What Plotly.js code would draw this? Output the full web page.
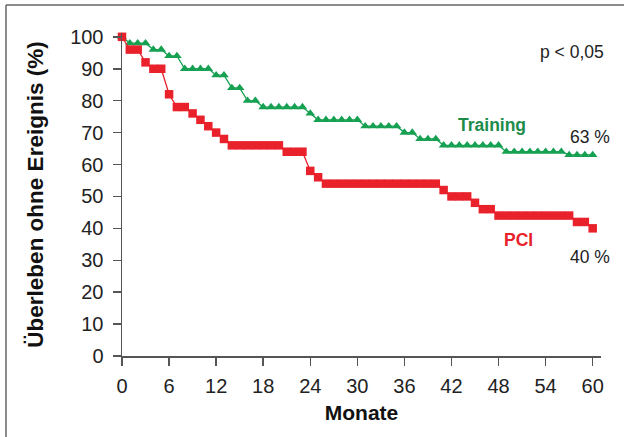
<!DOCTYPE html>
<html>
<head>
<meta charset="utf-8">
<script src="https://cdn.plot.ly/plotly-3.0.1.min.js"></script>
<style>html,body{margin:0;padding:0;background:#fff;}#chart{width:624px;height:437px;}</style>
</head>
<body>
<div id="chart"></div>
<script>
// Months 0..60
const months = Array.from({length: 61}, (_, i) => i);

// Training (green triangles)
const trainingValues = [
  100, 98, 98, 98, 96, 96, 94, 94, 90, 90,
  90, 90, 88, 88, 84, 84, 80, 80, 78, 78,
  78, 78, 78, 78, 76, 74, 74, 74, 74, 74,
  74, 72, 72, 72, 72, 72, 70, 70, 68, 68,
  68, 66, 66, 66, 66, 66, 66, 66, 66, 64,
  64, 64, 64, 64, 64, 64, 64, 63, 63, 63,
  63
];

// PCI (red squares)
const pciValues = [
  100, 96, 96, 92, 90, 90, 82, 78, 78, 76,
  74, 72, 70, 68, 66, 66, 66, 66, 66, 66,
  66, 64, 64, 64, 58, 56, 54, 54, 54, 54,
  54, 54, 54, 54, 54, 54, 54, 54, 54, 54,
  54, 52, 50, 50, 50, 48, 46, 46, 44, 44,
  44, 44, 44, 44, 44, 44, 44, 44, 42, 42,
  40
];

const xTicks = [0, 6, 12, 18, 24, 30, 36, 42, 48, 54, 60];
const yTicks = [0, 10, 20, 30, 40, 50, 60, 70, 80, 90, 100];

const RED = '#e8212b';
const GREEN = '#16a052';
const FONT = 'Liberation Sans, Arial, Helvetica, sans-serif';

const traces = [
  {
    x: months, y: trainingValues, type: 'scatter', mode: 'lines+markers',
    name: 'Training',
    line: {color: GREEN, width: 1.3},
    marker: {symbol: 'triangle-up', size: 8.5, color: GREEN},
    cliponaxis: false
  },
  {
    x: months, y: pciValues, type: 'scatter', mode: 'lines+markers',
    name: 'PCI',
    line: {color: RED, width: 1.3},
    marker: {symbol: 'square', size: 8.5, color: RED},
    cliponaxis: false
  }
];

const layout = {
  width: 624, height: 437,
  margin: {l: 122, r: 23, t: 33, b: 81, pad: 0},
  paper_bgcolor: '#ffffff',
  plot_bgcolor: '#ffffff',
  showlegend: false,
  font: {family: FONT, color: '#222'},
  xaxis: {
    range: [0, 61.06],
    tickvals: xTicks,
    ticktext: xTicks.map(String),
    showgrid: false, zeroline: false,
    showline: true, linecolor: '#555', linewidth: 1.5,
    ticks: 'outside', ticklen: 8, tickwidth: 1.5, tickcolor: '#555',
    tickfont: {size: 20, color: '#222', family: FONT},
    ticklabelstandoff: 3,
    title: {text: '<b>Monate</b>', font: {size: 21, color: '#111', family: FONT}, standoff: 10}
  },
  yaxis: {
    range: [0, 101.2],
    tickvals: yTicks,
    ticktext: yTicks.map(String),
    showgrid: false, zeroline: false,
    showline: true, linecolor: '#555', linewidth: 1.5,
    ticks: 'outside', ticklen: 8, tickwidth: 1.5, tickcolor: '#555',
    tickfont: {size: 20, color: '#222', family: FONT},
    ticklabelstandoff: 5,
    title: {text: '<b>Überleben ohne Ereignis (%)</b>', font: {size: 22.5, color: '#111', family: FONT}, standoff: 20}
  },
  annotations: [
    {x: 57.4, y: 95.3, xref: 'x', yref: 'y', text: 'p &lt; 0,05', showarrow: false,
     font: {size: 17.5, color: '#222', family: FONT}},
    {x: 47.2, y: 72.4, xref: 'x', yref: 'y', text: '<b>Training</b>', showarrow: false,
     font: {size: 17.5, color: '#1d8c4a', family: FONT}},
    {x: 59.7, y: 68.7, xref: 'x', yref: 'y', text: '63 %', showarrow: false,
     font: {size: 17.5, color: '#222', family: FONT}},
    {x: 50.6, y: 36.4, xref: 'x', yref: 'y', text: '<b>PCI</b>', showarrow: false,
     font: {size: 17.5, color: RED, family: FONT}},
    {x: 59.7, y: 31, xref: 'x', yref: 'y', text: '40 %', showarrow: false,
     font: {size: 17.5, color: '#222', family: FONT}}
  ],
  shapes: [
    {type: 'line', xref: 'paper', yref: 'paper', x0: -0.2422, x1: 1.05, y0: 1.0867, y1: 1.0867,
     line: {color: '#666', width: 1.5}},
    {type: 'line', xref: 'paper', yref: 'paper', x0: -0.2422, x1: -0.2422, y0: -0.26, y1: 1.0867,
     line: {color: '#666', width: 1.5}}
  ]
};

Plotly.newPlot('chart', traces, layout, {displayModeBar: false, staticPlot: true});
</script>
</body>
</html>
